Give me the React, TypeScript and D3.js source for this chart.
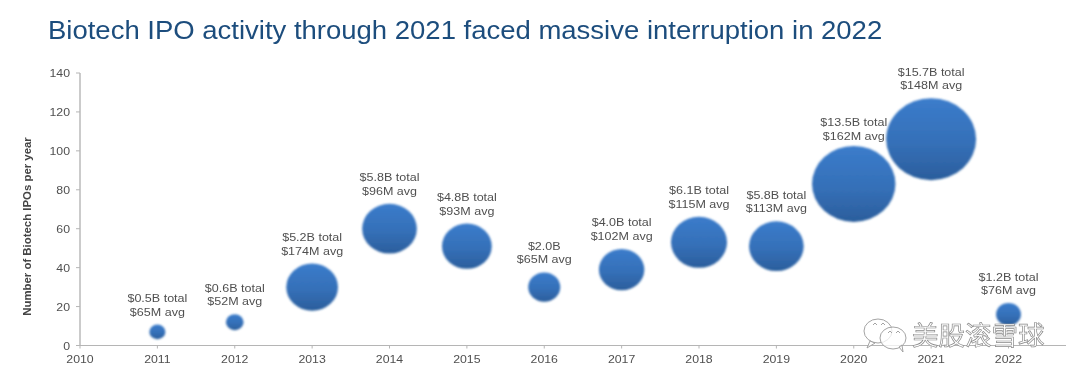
import React from "react";
import * as d3 from "d3";

const years = [2011, 2012, 2013, 2014, 2015, 2016, 2017, 2018, 2019, 2020, 2021, 2022];
const ipoCounts = [7, 12, 30, 60, 51, 30, 39, 53, 51, 83, 106, 16];
const totalsB = [0.5, 0.6, 5.2, 5.8, 4.8, 2.0, 4.0, 6.1, 5.8, 13.5, 15.7, 1.2];
const avgsM = [65, 52, 174, 96, 93, 65, 102, 115, 113, 162, 148, 76];
const xTicks = [2010, 2011, 2012, 2013, 2014, 2015, 2016, 2017, 2018, 2019, 2020, 2021, 2022];
const yTicks = [0, 20, 40, 60, 80, 100, 120, 140];

const FONT = "'Liberation Sans', Arial, sans-serif";
const STRETCH = 1.1;

export default function App() {
  const x = d3.scaleLinear().domain([2010, 2022]).range([80, 1008.5]);
  const y = d3.scaleLinear().domain([0, 140]).range([345.5, 73]);
  const r = d3.scaleSqrt().domain([0, 15.7]).range([0, 45]);
  const gray = "#505050";
  const axisGray = "#b5b5b5";
  const at = (px: number, py: number) => `translate(${px},${py}) scale(${STRETCH},1)`;

  return (
    <svg width={1080} height={383} style={{ position: "absolute", left: 0, top: 0, background: "#fff" }}>
      <defs>
        <linearGradient id="bub" x1="0" y1="0" x2="0" y2="1">
          <stop offset="0" stopColor="#3b7ccb" />
          <stop offset="0.55" stopColor="#3570b8" />
          <stop offset="1" stopColor="#2b5e9c" />
        </linearGradient>
        <filter id="soft" x="-5%" y="-5%" width="110%" height="110%">
          <feGaussianBlur stdDeviation="0.45" />
        </filter>
        <filter id="edge" x="-15%" y="-15%" width="130%" height="130%">
          <feGaussianBlur stdDeviation="0.8" />
        </filter>
      </defs>

      <text transform={at(48, 39)} fontFamily={FONT} fontSize={25} fill="#1d4d7d" filter="url(#soft)">
        Biotech IPO activity through 2021 faced massive interruption in 2022
      </text>

      <g filter="url(#soft)">
        <line x1={x(2010)} x2={1066} y1={y(0)} y2={y(0)} stroke={axisGray} strokeWidth={1.2} />
        <line x1={x(2010)} x2={x(2010)} y1={y(0)} y2={y(140)} stroke={axisGray} strokeWidth={1.4} />
        {yTicks.map((t) => (
          <g key={t}>
            <line x1={x(2010) - 4} x2={x(2010)} y1={y(t)} y2={y(t)} stroke={axisGray} />
            <text transform={at(70, y(t) + 4)} textAnchor="end" fontFamily={FONT} fontSize={11.2} fill={gray}>{t}</text>
          </g>
        ))}
        {xTicks.map((t) => (
          <g key={t}>
            <line x1={x(t)} x2={x(t)} y1={y(0)} y2={y(0) + 3} stroke={axisGray} />
            <text transform={at(x(t), 363)} textAnchor="middle" fontFamily={FONT} fontSize={11.2} fill={gray}>{t}</text>
          </g>
        ))}
        <text transform="translate(30.5,226.5) rotate(-90)" textAnchor="middle" fontFamily={FONT} fontSize={11.4} fontWeight="bold" fill="#444">
          Number of Biotech IPOs per year
        </text>
      </g>

      {years.map((yr, i) => {
        const rx = r(totalsB[i]);
        const ry = rx * 0.91;
        return (
          <ellipse key={yr} cx={x(yr)} cy={y(ipoCounts[i])} rx={rx} ry={ry} fill="url(#bub)" filter="url(#edge)" />
        );
      })}

      <g filter="url(#soft)" fontFamily={FONT} fontSize={11.4} fill={gray} textAnchor="middle">
        {years.map((yr, i) => {
          const rx = r(totalsB[i]);
          const top = y(ipoCounts[i]) - rx * 0.91;
          const gap = yr === 2020 ? 6 : 9;
          const line2 = top - gap;
          const first = yr === 2016 ? `$${totalsB[i].toFixed(1)}B` : `$${totalsB[i].toFixed(1)}B total`;
          return (
            <g key={yr}>
              <text transform={at(x(yr), line2 - 13.5)}>{first}</text>
              <text transform={at(x(yr), line2)}>{`$${avgsM[i]}M avg`}</text>
            </g>
          );
        })}
      </g>

      <g fill="#fff" fillOpacity={0.75} stroke="#9a9a9a" strokeWidth={0.9}>
        <ellipse cx={878} cy={331} rx={14} ry={12} />
        <path d="M870 341 L867 348 L875 343 Z" />
        <ellipse cx={893} cy={338} rx={13} ry={11} />
        <path d="M899 347 L903 352 L902 345 Z" />
        <path d="M873 325 l2 -2 l2 2 M881 325 l2 -2 l2 2 M888 333 l2 -2 l2 2 M896 333 l2 -2 l2 2" fill="none" />
      </g>
      <text x={912} y={345} fontFamily="'Noto Sans CJK SC'" fontSize={26.5} fill="#fff" stroke="#8a8a8a" strokeWidth={0.7}>
        美股滚雪球
      </text>
    </svg>
  );
}
